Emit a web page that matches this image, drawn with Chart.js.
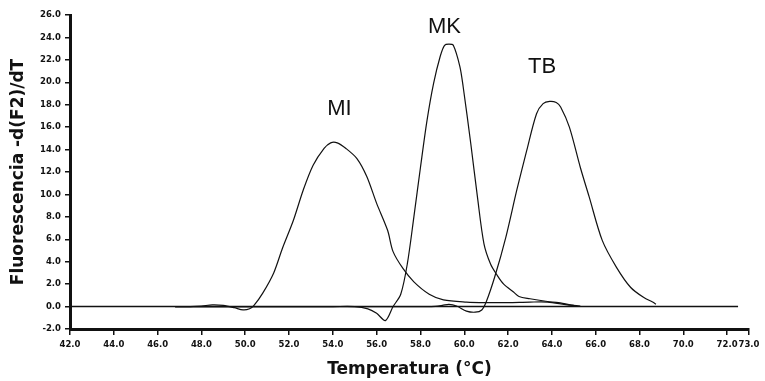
<!DOCTYPE html>
<html>
<head>
<meta charset="utf-8">
<title>Curvas de fusión</title>
<script src="https://cdn.jsdelivr.net/npm/chart.js@4.4.1/dist/chart.umd.min.js"></script>
<style>
  html, body { margin: 0; padding: 0; background: #fff; }
  canvas { display: block; }
</style>
</head>
<body>
<canvas id="meltChart" width="765" height="381"></canvas>
<script>
const xTicks = [42, 44, 46, 48, 50, 52, 54, 56, 58, 60, 62, 64, 66, 68, 70, 72, 73];

const baseX = [42, 72.5];
const baseY = [0, 0];

const miX = [46.8, 47.5, 48.0, 48.5, 49.0, 49.5, 49.9, 50.2, 50.4, 50.8, 51.3, 51.7, 52.2, 52.65, 53.1, 53.6, 53.9, 54.2, 54.6, 55.1, 55.55, 56.0, 56.5, 56.75, 57.2, 57.7, 58.4, 59.05, 60.1, 61.0, 62.0, 63.0, 63.8, 64.7, 65.3];
const miY = [0, 0, 0.05, 0.15, 0.1, -0.1, -0.3, -0.2, 0.1, 1.2, 3.0, 5.2, 7.7, 10.4, 12.6, 14.1, 14.6, 14.6, 14.1, 13.2, 11.6, 9.2, 6.8, 4.9, 3.4, 2.2, 1.1, 0.6, 0.4, 0.35, 0.35, 0.4, 0.4, 0.15, 0.05];

const mkX = [46.8, 50.0, 52.0, 54.0, 55.0, 55.6, 56.0, 56.4, 56.75, 57.1, 57.4, 57.7, 58.0, 58.3, 58.6, 58.9, 59.1, 59.3, 59.5, 59.8, 59.95, 60.3, 60.6, 60.9, 61.2, 61.5, 61.8, 62.25, 62.5, 63.0, 63.8, 64.3, 65.0];
const mkY = [0, 0, 0, 0, 0, -0.2, -0.6, -1.25, 0, 1.1, 3.8, 8.0, 12.4, 16.6, 19.9, 22.3, 23.3, 23.4, 23.3, 21.4, 19.6, 14.5, 9.8, 5.6, 3.8, 2.8, 2.0, 1.3, 0.9, 0.7, 0.45, 0.35, 0.1];

const tbX = [46.8, 50.0, 54.0, 57.0, 58.5, 59.0, 59.3, 59.65, 60.1, 60.5, 60.8, 61.0, 61.4, 61.9, 62.4, 62.85, 63.3, 63.6, 63.9, 64.2, 64.4, 64.8, 65.3, 65.7, 66.3, 66.95, 67.6, 68.2, 68.6, 68.75];
const tbY = [0, 0, 0, 0, 0, 0.1, 0.2, 0.05, -0.4, -0.5, -0.3, 0.4, 2.7, 6.2, 10.4, 13.9, 17.2, 18.1, 18.3, 18.2, 17.8, 16.0, 12.4, 9.8, 5.9, 3.5, 1.7, 0.8, 0.4, 0.2];

const labelNames = ['MI', 'MK', 'TB'];
const labelX = [54.3, 59.1, 63.55];
const labelY = [17.6, 24.95, 21.4];

const ink = '#111';

function toPoints(xs, ys) {
  return xs.map((x, i) => ({ x: x, y: ys[i] }));
}

function makeLine(label, xs, ys, width) {
  return {
    label: label,
    data: toPoints(xs, ys),
    borderColor: ink,
    borderWidth: width,
    pointRadius: 0,
    fill: false,
    tension: 0.3
  };
}

const whiteBackground = {
  id: 'whiteBackground',
  beforeDraw(chart) {
    const ctx = chart.ctx;
    ctx.save();
    ctx.fillStyle = '#fff';
    ctx.fillRect(0, 0, chart.width, chart.height);
    ctx.restore();
  }
};

const peakLabels = {
  id: 'peakLabels',
  afterDatasetsDraw(chart) {
    const { ctx, scales: { x, y } } = chart;
    ctx.save();
    ctx.font = '22px "Liberation Sans", Arial, sans-serif';
    ctx.fillStyle = ink;
    ctx.textAlign = 'center';
    ctx.textBaseline = 'middle';
    labelNames.forEach((name, i) => {
      ctx.fillText(name, x.getPixelForValue(labelX[i]), y.getPixelForValue(labelY[i]));
    });
    ctx.restore();
  }
};

const tickFont = { family: '"DejaVu Sans", sans-serif', size: 8.5, weight: 'bold' };
const titleFont = { family: '"DejaVu Sans", sans-serif', size: 17, weight: 'bold' };

new Chart(document.getElementById('meltChart').getContext('2d'), {
  type: 'line',
  data: {
    datasets: [
      makeLine('Base', baseX, baseY, 1.5),
      makeLine('MI', miX, miY, 1.2),
      makeLine('MK', mkX, mkY, 1.2),
      makeLine('TB', tbX, tbY, 1.2)
    ]
  },
  options: {
    responsive: false,
    animation: false,
    layout: { padding: { top: 15, right: 16, left: 0, bottom: 0 } },
    plugins: {
      legend: { display: false },
      tooltip: { enabled: false }
    },
    scales: {
      x: {
        type: 'linear',
        min: 42,
        max: 73,
        afterBuildTicks: (axis) => { axis.ticks = xTicks.map((v) => ({ value: v })); },
        afterFit: (axis) => { axis.height = 52; },
        ticks: {
          autoSkip: false,
          maxRotation: 0,
          padding: 5,
          color: ink,
          font: tickFont,
          callback: (v) => Number(v).toFixed(1)
        },
        grid: { drawOnChartArea: false, drawTicks: true, tickLength: 6, color: ink, lineWidth: 1.5 },
        border: { display: true, color: ink, width: 3 },
        title: {
          display: true,
          text: 'Temperatura (°C)',
          color: ink,
          font: titleFont,
          padding: { top: 0, bottom: 1 }
        }
      },
      y: {
        min: -2,
        max: 26,
        afterFit: (axis) => { axis.width = 70; },
        ticks: {
          stepSize: 2,
          padding: 4,
          color: ink,
          font: tickFont,
          callback: (v) => Number(v).toFixed(1)
        },
        grid: { drawOnChartArea: false, drawTicks: true, tickLength: 5, color: ink, lineWidth: 1.5 },
        border: { display: true, color: ink, width: 3 },
        title: {
          display: true,
          text: 'Fluorescencia -d(F2)/dT',
          color: ink,
          font: titleFont,
          padding: { top: 8, bottom: 0 }
        }
      }
    }
  },
  plugins: [whiteBackground, peakLabels]
});
</script>
</body>
</html>
